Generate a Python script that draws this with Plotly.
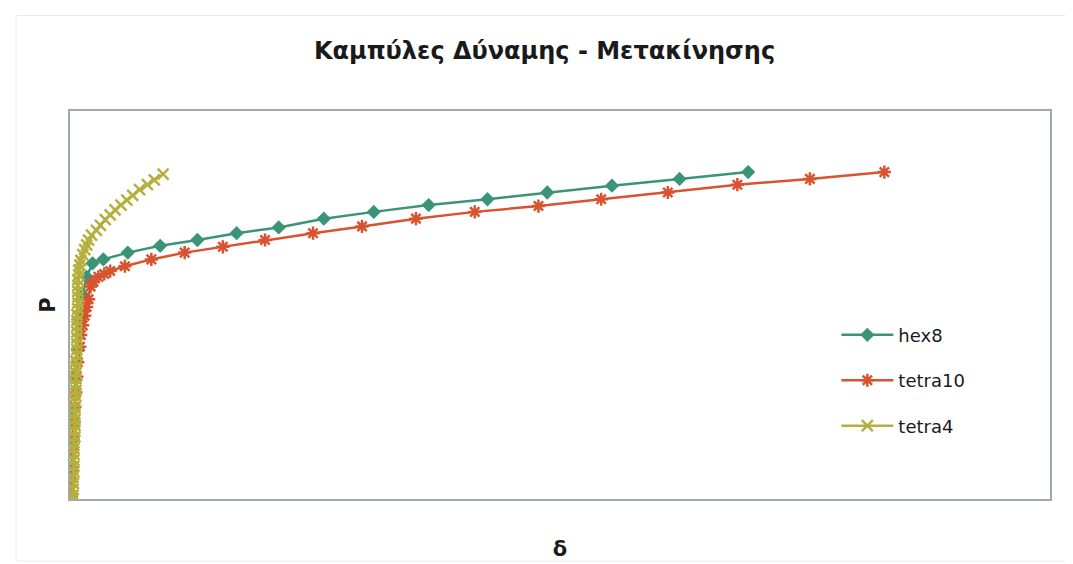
import plotly.graph_objects as go

# hex8
hex8_d = [0.01, 0.02, 0.03, 0.04, 0.06, 0.08, 0.10, 0.13, 0.17, 0.23, 0.34, 0.59, 0.92,
          1.30, 1.70, 2.13, 2.59, 3.10, 3.66, 4.26, 4.87, 5.53, 6.22, 6.92]
hex8_p = [2, 30, 61, 92, 123, 154, 185, 210, 229, 243, 247, 254, 261,
          267, 274, 280, 289, 296, 303, 309, 316, 323, 330, 337]

# tetra10
tetra10_d = [0.01, 0.015, 0.02, 0.025, 0.03, 0.04, 0.05, 0.06, 0.07, 0.08, 0.10, 0.11,
             0.13, 0.15, 0.17, 0.19, 0.21, 0.24, 0.29, 0.35, 0.41, 0.56, 0.83, 1.17,
             1.56, 1.99, 2.48, 2.98, 3.53, 4.13, 4.78, 5.42, 6.10, 6.81, 7.55, 8.31]
tetra10_p = [2, 18, 33, 48, 64, 79, 95, 110, 126, 141, 157, 169,
             179, 189, 198, 206, 219, 224, 229, 232, 235, 240, 247, 254,
             260, 267, 274, 281, 289, 296, 302, 309, 316, 324, 330, 337]

# tetra4
tetra4_d = [0.03, 0.03, 0.03, 0.035, 0.03, 0.04, 0.04, 0.04, 0.04, 0.04, 0.04, 0.05,
            0.05, 0.05, 0.05, 0.05, 0.05, 0.05, 0.06, 0.06, 0.06, 0.06, 0.06, 0.06,
            0.06, 0.07, 0.07, 0.07, 0.07, 0.07, 0.07, 0.07, 0.07, 0.08, 0.08, 0.08,
            0.08, 0.08, 0.08, 0.09, 0.09, 0.10, 0.11, 0.13, 0.15, 0.17, 0.19, 0.22,
            0.27, 0.31, 0.36, 0.41, 0.46, 0.52, 0.58, 0.64, 0.71, 0.79, 0.86, 0.95]
tetra4_p = [0, 4, 10, 16, 22, 28, 34, 40, 46, 52, 58, 64,
            70, 76, 82, 88, 94, 100, 106, 112, 118, 124, 130, 136,
            142, 148, 154, 160, 166, 172, 178, 184, 190, 196, 202, 208,
            214, 220, 226, 231, 236, 241, 246, 252, 257, 262, 267, 272,
            277, 282, 288, 293, 298, 303, 308, 313, 319, 324, 329, 335]

series = [
    ("hex8", hex8_d, hex8_p, "#3b9478", "diamond", 11, 0),
    ("tetra10", tetra10_d, tetra10_p, "#d8532f", "asterisk-open", 11, 2.5),
    ("tetra4", tetra4_d, tetra4_p, "#b4b03e", "x-thin-open", 11, 2.5),
]

fig = go.Figure()
for name, d, p, color, symbol, size, lw in series:
    fig.add_trace(go.Scatter(
        x=d, y=p, mode="lines+markers", name=name, legendgroup=name,
        line=dict(color=color, width=2.5),
        marker=dict(symbol=symbol, size=size, color=color,
                    line=dict(color=color, width=lw)),
    ))

axis_common = dict(showgrid=False, zeroline=False, showticklabels=False, ticks="",
                   showline=True, mirror=True, linecolor="#a3aaa3", linewidth=2)

# the page body adds an 8px offset, margins compensate for it
fig.update_layout(
    width=1073, height=564,
    paper_bgcolor="white", plot_bgcolor="white",
    margin=dict(l=62, r=31, t=103, b=73),
    font=dict(family="DejaVu Sans, Verdana", color="#1a1a1a"),
    title=dict(text="<b>Καμπύλες Δύναμης - Μετακίνησης</b>", x=0.5, xanchor="center",
               y=0.925, yanchor="middle", font=dict(size=24, color="#1a1a1a")),
    xaxis=dict(range=[0, 10], title=dict(text="<b>δ</b>", font=dict(size=21), standoff=41),
               **axis_common),
    yaxis=dict(range=[0, 400], title=dict(text="<b>P</b>", font=dict(size=21), standoff=7),
               **axis_common),
    legend=dict(x=0.782, y=0.47, xanchor="left", yanchor="top", bgcolor="rgba(0,0,0,0)",
                font=dict(size=18, color="#1a1a1a"), tracegroupgap=19, itemwidth=52,
                traceorder="grouped"),
    shapes=[dict(type="rect", xref="paper", yref="paper", x0=-0.055, x1=1.02,
                 y0=-0.16, y1=1.246, line=dict(color="#ebebeb", width=1))],
)

fig.write_html("out.html")
